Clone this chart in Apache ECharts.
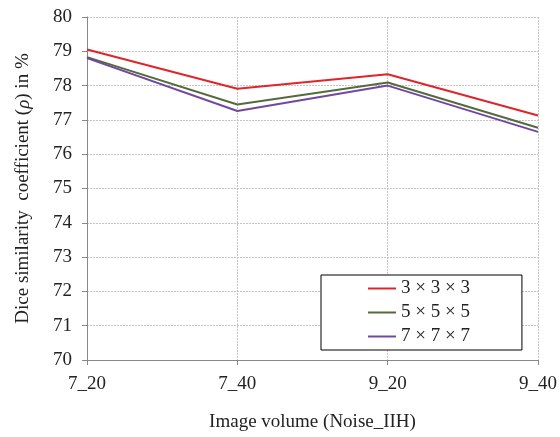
<!DOCTYPE html>
<html>
<head>
<meta charset="utf-8">
<script src="https://cdn.jsdelivr.net/npm/echarts@6/dist/echarts.min.js"></script>
<style>
  html, body { margin: 0; padding: 0; background: #fff; }
  #chart { width: 560px; height: 437px; }
</style>
</head>
<body>
<div id="chart"></div>
<script>
// Image volumes along the x axis
const categories = ['7_20', '7_40', '9_20', '9_40'];

// Dice similarity coefficient (%) for each neighbourhood size
const kernel3 = [79.05, 77.91, 78.33, 77.13];
const kernel5 = [78.83, 77.45, 78.09, 76.77];
const kernel7 = [78.80, 77.26, 78.00, 76.65];

const seriesNames = ['3 × 3 × 3', '5 × 5 × 5', '7 × 7 × 7'];
const seriesColors = ['#e0242a', '#556b3c', '#7247a0'];

const font = '"Liberation Serif", "Times New Roman", serif';
const textColor = '#222';

const chart = echarts.init(document.getElementById('chart'));

const makeLine = (name, data, color) => ({
  name,
  type: 'line',
  data,
  symbol: 'none',
  lineStyle: { color, width: 2 },
  itemStyle: { color },
  animation: false
});

const gridLine = { show: true, lineStyle: { color: '#c4c4c4', type: [2, 1], width: 1 } };

chart.setOption({
  backgroundColor: '#ffffff',
  animation: false,
  grid: { left: 87, right: 19, top: 17, bottom: 77 },
  legend: {
    left: 321,
    top: 275,
    orient: 'vertical',
    itemGap: 5,
    itemWidth: 28,
    itemHeight: 18,
    padding: [4, 52, 4, 47],
    borderColor: '#000',
    borderWidth: 1,
    backgroundColor: '#fff',
    textStyle: { fontFamily: font, fontSize: 19, color: textColor },
    data: seriesNames.map((n, i) => ({
      name: n,
      icon: 'path://M0,9 L28,9 L28,11 L0,11 Z',
      itemStyle: { color: seriesColors[i] }
    }))
  },
  xAxis: {
    type: 'category',
    data: categories,
    boundaryGap: false,
    name: 'Image volume (Noise_IIH)',
    nameLocation: 'middle',
    nameGap: 53,
    nameTextStyle: { fontFamily: font, fontSize: 19, color: textColor },
    axisLine: { lineStyle: { color: '#888', width: 1 } },
    axisTick: { show: true, alignWithLabel: true, length: 5, lineStyle: { color: '#888' } },
    axisLabel: { fontFamily: font, fontSize: 19, color: textColor, margin: 15 },
    splitLine: gridLine
  },
  yAxis: {
    type: 'value',
    min: 70,
    max: 80,
    interval: 1,
    name: 'Dice similarity  coefficient ({i|ρ}) in %',
    nameLocation: 'middle',
    nameGap: 54,
    nameTextStyle: {
      fontFamily: font, fontSize: 19, color: textColor,
      rich: { i: { fontFamily: font, fontSize: 19, fontStyle: 'italic', color: textColor } }
    },
    axisLine: { show: true, lineStyle: { color: '#888', width: 1 } },
    axisTick: { show: true, length: 5, lineStyle: { color: '#888' } },
    axisLabel: { fontFamily: font, fontSize: 19, color: textColor, margin: 15 },
    splitLine: gridLine
  },
  series: [
    makeLine(seriesNames[0], kernel3, seriesColors[0]),
    makeLine(seriesNames[1], kernel5, seriesColors[1]),
    makeLine(seriesNames[2], kernel7, seriesColors[2])
  ]
});
</script>
</body>
</html>
